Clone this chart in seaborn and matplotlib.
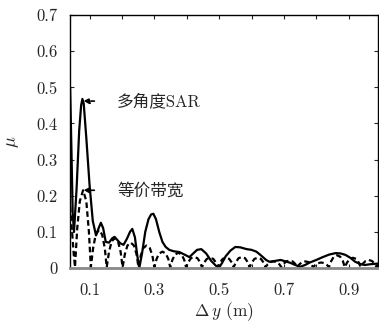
import numpy as np
import pandas as pd
import seaborn as sns
import matplotlib
matplotlib.use("Agg")
import matplotlib.pyplot as plt

# multi-angle SAR (solid)
solid_x = [0.040, 0.044, 0.048, 0.052, 0.060, 0.068, 0.074, 0.078, 0.082, 0.090,
           0.100, 0.110, 0.120, 0.128, 0.135, 0.142, 0.150, 0.160, 0.170, 0.177,
           0.185, 0.195, 0.205, 0.215, 0.225, 0.232, 0.240, 0.248, 0.254, 0.262,
           0.272, 0.282, 0.290, 0.297, 0.305, 0.315, 0.325, 0.335, 0.346, 0.360,
           0.377, 0.395, 0.408, 0.420, 0.432, 0.445, 0.460, 0.475, 0.490, 0.500,
           0.510, 0.520, 0.535, 0.550, 0.565, 0.585, 0.600, 0.615, 0.630, 0.645,
           0.655, 0.670, 0.690, 0.705, 0.720, 0.735, 0.750, 0.765, 0.780, 0.800,
           0.820, 0.840, 0.860, 0.875, 0.890, 0.905, 0.920, 0.935, 0.950, 0.965,
           0.990]
solid_y = [0.500, 0.330, 0.150, 0.100, 0.220, 0.380, 0.450, 0.468, 0.455, 0.360,
           0.230, 0.130, 0.090, 0.110, 0.125, 0.110, 0.072, 0.070, 0.082, 0.086,
           0.078, 0.068, 0.064, 0.080, 0.100, 0.108, 0.085, 0.030, 0.002, 0.040,
           0.100, 0.135, 0.148, 0.150, 0.135, 0.100, 0.072, 0.058, 0.050, 0.046,
           0.044, 0.036, 0.030, 0.040, 0.050, 0.052, 0.040, 0.020, 0.006, 0.001,
           0.015, 0.032, 0.048, 0.058, 0.057, 0.052, 0.050, 0.045, 0.034, 0.022,
           0.017, 0.019, 0.022, 0.018, 0.014, 0.008, 0.003, 0.008, 0.015, 0.022,
           0.030, 0.037, 0.041, 0.040, 0.036, 0.028, 0.017, 0.011, 0.008, 0.010,
           0.012]

# equivalent bandwidth (dashed)
dash_x = [0.040, 0.046, 0.051, 0.055,
          0.062, 0.070, 0.080, 0.090, 0.098, 0.104,
          0.111, 0.119, 0.129, 0.139, 0.147, 0.153,
          0.160, 0.168, 0.178, 0.188, 0.196, 0.202,
          0.209, 0.217, 0.227, 0.237, 0.245, 0.251,
          0.258, 0.266, 0.276, 0.286, 0.294, 0.300,
          0.307, 0.315, 0.325, 0.335, 0.343, 0.349,
          0.356, 0.364, 0.374, 0.384, 0.392, 0.398,
          0.405, 0.413, 0.423, 0.433, 0.441, 0.447,
          0.454, 0.462, 0.472, 0.482, 0.490, 0.496,
          0.503, 0.511, 0.521, 0.531, 0.539, 0.545,
          0.552, 0.560, 0.570, 0.580, 0.588, 0.594,
          0.601, 0.609, 0.619, 0.629, 0.637, 0.643,
          0.650, 0.658, 0.668, 0.678, 0.686, 0.692,
          0.699, 0.707, 0.717, 0.727, 0.735, 0.741,
          0.748, 0.756, 0.766, 0.776, 0.784, 0.790,
          0.797, 0.805, 0.815, 0.825, 0.833, 0.839,
          0.846, 0.854, 0.864, 0.874, 0.882, 0.888,
          0.895, 0.903, 0.913, 0.923, 0.931, 0.937,
          0.944, 0.952, 0.962, 0.972, 0.980, 0.986, 0.990]
dash_y = [0.170, 0.100, 0.040, 0.002,
          0.110, 0.185, 0.215, 0.185, 0.100, 0.002,
          0.055, 0.092, 0.105, 0.092, 0.055, 0.002,
          0.044, 0.073, 0.083, 0.073, 0.044, 0.002,
          0.038, 0.062, 0.070, 0.062, 0.038, 0.002,
          0.034, 0.055, 0.062, 0.055, 0.034, 0.002,
          0.025, 0.040, 0.045, 0.040, 0.025, 0.002,
          0.023, 0.037, 0.042, 0.037, 0.023, 0.002,
          0.016, 0.027, 0.030, 0.027, 0.016, 0.002,
          0.015, 0.025, 0.028, 0.025, 0.015, 0.002,
          0.015, 0.025, 0.028, 0.025, 0.015, 0.002,
          0.016, 0.027, 0.030, 0.027, 0.016, 0.002,
          0.015, 0.025, 0.028, 0.025, 0.015, 0.002,
          0.010, 0.016, 0.018, 0.016, 0.010, 0.002,
          0.011, 0.018, 0.020, 0.018, 0.011, 0.002,
          0.010, 0.016, 0.018, 0.016, 0.010, 0.002,
          0.008, 0.013, 0.015, 0.013, 0.008, 0.002,
          0.019, 0.031, 0.035, 0.031, 0.019, 0.002,
          0.015, 0.025, 0.028, 0.025, 0.015, 0.002,
          0.012, 0.019, 0.022, 0.019, 0.012, 0.002, 0.010]

x_ticks = [0.1, 0.3, 0.5, 0.7, 0.9]
x_minor = [0.2, 0.4, 0.6, 0.8]
y_ticks = [0, 0.1, 0.2, 0.3, 0.4, 0.5, 0.6, 0.7]
y_labels = ["0", "0.1", "0.2", "0.3", "0.4", "0.5", "0.6", "0.7"]

sns.set_style("ticks")
plt.rcParams['font.family'] = ['cmr10', 'Noto Sans CJK SC']
plt.rcParams['mathtext.fontset'] = 'cm'
plt.rcParams['axes.unicode_minus'] = False

fig = plt.figure(figsize=(3.79, 3.22), dpi=100)
ax = fig.add_axes([0.185, 0.168, 0.812, 0.785])

df_s = pd.DataFrame({'x': solid_x, 'y': solid_y})
df_d = pd.DataFrame({'x': dash_x, 'y': dash_y})
sns.lineplot(data=df_s, x='x', y='y', ax=ax, color='black', lw=1.6, sort=False)
sns.lineplot(data=df_d, x='x', y='y', ax=ax, color='black', lw=1.6, sort=False,
             linestyle=(0, (2.5, 1.5)))

ax.set_xlim(0.04, 0.99)
ax.set_ylim(0, 0.7)
ax.set_xticks(x_ticks)
ax.set_xticklabels([str(v) for v in x_ticks])
ax.set_xticks(x_minor, minor=True)
ax.set_yticks(y_ticks)
ax.set_yticklabels(y_labels)
ax.tick_params(which='both', direction='in', top=True, right=True, length=3,
               width=0.8, labelsize=12)
ax.tick_params(axis='x', pad=11)
ax.tick_params(axis='y', pad=9)
for s in ['left', 'top', 'right']:
    ax.spines[s].set_linewidth(1.0)
    ax.spines[s].set_color('black')
ax.spines['bottom'].set_color('#888888')
ax.spines['bottom'].set_linewidth(2.0)

ax.set_xlabel(r'$\Delta\,y$ (m)', fontsize=12.5, labelpad=1)
ax.set_ylabel(r'$\mu$', fontsize=13, labelpad=11)

ax.annotate('多角度SAR', xy=(0.081, 0.462), xytext=(0.185, 0.462),
            fontsize=12, va='center', ha='left',
            arrowprops=dict(arrowstyle='-|>', linestyle=(0, (2, 1.5)), lw=1.2,
                            color='black', shrinkA=14, shrinkB=0, mutation_scale=8))
ax.annotate('等价带宽', xy=(0.081, 0.215), xytext=(0.185, 0.215),
            fontsize=12, va='center', ha='left',
            arrowprops=dict(arrowstyle='-|>', linestyle=(0, (2, 1.5)), lw=1.2,
                            color='black', shrinkA=14, shrinkB=0, mutation_scale=8))

fig.savefig('out.png', dpi=100)
